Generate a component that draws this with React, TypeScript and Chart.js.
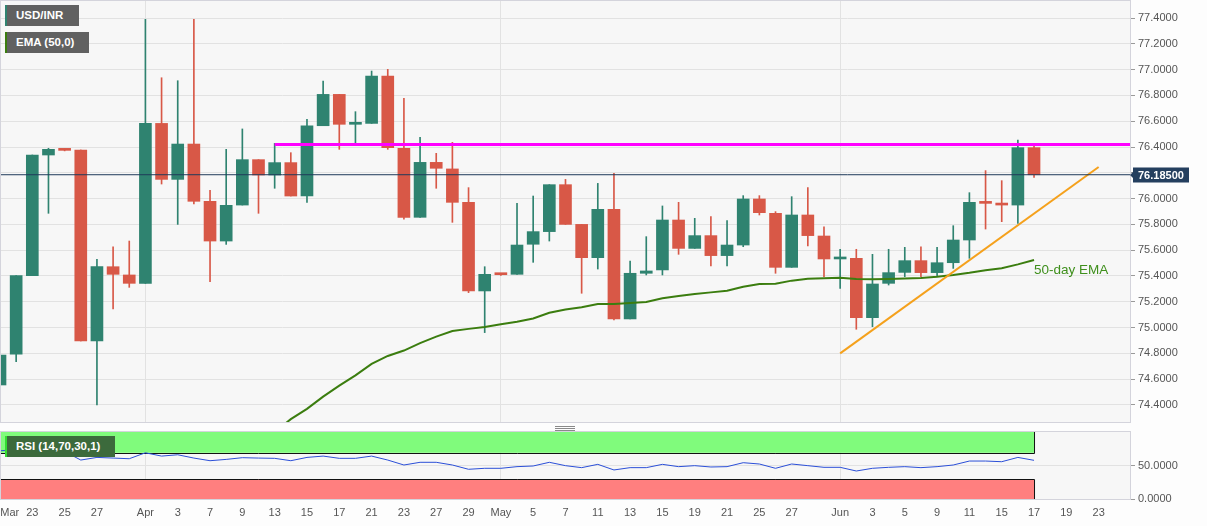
import React, { useEffect, useRef } from "react";
import { Chart, registerables } from "chart.js";

Chart.register(...registerables);

const FONT = "'Liberation Sans', Arial, sans-serif";

// Trading days: index 0 = Mar 19 ... index 64 = Jun 17
const opens = [
  74.555, 74.793, 75.403, 76.338, 76.382, 76.377, 74.896, 75.472, 75.408, 75.343,
  76.583, 76.149, 76.423, 75.979, 75.671, 75.95, 76.302, 76.183, 76.279, 76.02,
  76.565, 76.808, 76.576, 76.583, 76.95, 76.39, 75.855, 76.281, 76.23, 75.971,
  75.284, 75.413, 75.413, 75.646, 75.744, 76.108, 75.8, 75.542, 75.917, 75.067,
  75.421, 75.447, 75.834, 75.614, 75.713, 75.558, 75.64, 75.997, 75.886, 75.467,
  75.873, 75.71, 75.532, 75.537, 75.077, 75.343, 75.428, 75.519, 75.426, 75.503,
  75.679, 75.971, 75.963, 75.95, 76.395,
];
const highs = [
  75.29, 75.403, 76.338, 76.39, 76.385, 76.377, 75.529, 75.627, 75.671, 77.39,
  76.937, 76.914, 77.39, 76.064, 76.382, 76.54, 76.302, 76.428, 76.356, 76.614,
  76.912, 76.808, 76.674, 76.989, 77.002, 76.777, 76.475, 76.351, 76.436, 76.085,
  75.472, 75.415, 75.963, 76.02, 76.108, 76.149, 75.8, 76.118, 76.196, 75.516,
  75.705, 75.943, 75.971, 75.847, 75.86, 75.829, 76.023, 76.023, 75.899, 76.015,
  76.085, 75.782, 75.607, 75.607, 75.568, 75.607, 75.622, 75.627, 75.622, 75.79,
  76.046, 76.217, 76.139, 76.454, 76.408,
];
const lows = [
  74.54, 74.736, 75.403, 75.886, 76.37, 74.896, 74.4, 75.144, 75.312, 75.343,
  76.113, 75.8, 75.958, 75.356, 75.645, 75.95, 75.886, 76.08, 76.02, 75.971,
  76.565, 76.382, 76.428, 76.583, 76.382, 75.84, 75.855, 76.08, 75.816, 75.271,
  74.961, 75.405, 75.413, 75.506, 75.671, 75.8, 75.266, 75.454, 75.059, 75.067,
  75.408, 75.408, 75.568, 75.614, 75.478, 75.478, 75.627, 75.873, 75.421, 75.467,
  75.633, 75.395, 75.304, 74.987, 75.007, 75.33, 75.395, 75.395, 75.403, 75.459,
  75.537, 75.764, 75.821, 75.808, 76.165,
];
const closes = [
  74.787, 75.403, 76.338, 76.382, 76.374, 74.896, 75.472, 75.413, 75.343, 76.583,
  76.149, 76.423, 75.979, 75.671, 75.948, 76.302, 76.183, 76.279, 76.02, 76.565,
  76.808, 76.576, 76.58, 76.95, 76.395, 75.855, 76.281, 76.235, 75.971, 75.284,
  75.413, 75.41, 75.64, 75.744, 76.108, 75.8, 75.542, 75.917, 75.067, 75.421,
  75.439, 75.834, 75.614, 75.713, 75.558, 75.64, 75.997, 75.891, 75.467, 75.873,
  75.713, 75.532, 75.535, 75.077, 75.338, 75.426, 75.519, 75.426, 75.503, 75.679,
  75.971, 75.963, 75.95, 76.395, 76.185,
];

// 50-day EMA, starting at index 17 (Apr 13)
const emaStartIndex = 17;
const ema50 = [
  74.19, 74.29, 74.37, 74.465, 74.55, 74.63, 74.718, 74.78, 74.822, 74.88,
  74.93, 74.974, 74.99, 75.005, 75.025, 75.045, 75.07, 75.115, 75.14, 75.157,
  75.183, 75.183, 75.19, 75.198, 75.227, 75.245, 75.26, 75.273, 75.286, 75.317,
  75.338, 75.34, 75.364, 75.378, 75.383, 75.387, 75.377, 75.374, 75.376, 75.38,
  75.385, 75.395, 75.408, 75.425, 75.445, 75.46, 75.49, 75.524,
];

// RSI (14)
const rsi14 = [
  73, 75, 74, 73, 72, 59, 63, 62, 61, 70,
  65, 67, 62, 58, 60, 62.6, 62, 61.6, 58, 63,
  65, 61.6, 61.6, 65, 59, 51.5, 55.6, 55.6, 51.5, 45,
  46.5, 46.5, 49, 50, 55.6, 50.5, 47.5, 52.5, 44, 47.5,
  47.5, 52.5, 49, 50.5, 48.5, 49, 55, 53, 46.5, 53,
  50.5, 48, 48, 42.4, 46.5, 48, 49, 47.5, 49, 51.5,
  57.5, 57.5, 56.5, 63, 58.6,
];

const resistanceLevel = 76.42;
const resistanceStartIndex = 17;
const trendIndex = [52, 68];
const trendValue = [74.8, 76.245];

const monthStartIndex = [9, 31, 52];
const xTickIndex = [0.6, 2, 4, 6, 9, 11, 13, 15, 17, 19, 21, 23, 25, 27, 29, 31, 33, 35, 37, 39, 41, 43, 45, 47, 49, 52, 54, 56, 58, 60, 62, 64, 66, 68];
const xTickLabels = ["Mar", "23", "25", "27", "Apr", "3", "7", "9", "13", "15", "17", "21", "23", "27", "29", "May", "5", "7", "11", "13", "15", "19", "21", "25", "27", "Jun", "3", "5", "9", "11", "15", "17", "19", "23"];
const yMainTicks = [74.4, 74.6, 74.8, 75.0, 75.2, 75.4, 75.6, 75.8, 76.0, 76.2, 76.4, 76.6, 76.8, 77.0, 77.2, 77.4];
const rsiTicks = [0, 50];
const rsiUpper = 70;
const rsiLower = 30;

const X_MIN = 0;
const X_MAX = 69.94;
const Y_MIN = 74.268;
const Y_MAX = 77.532;
const RSI_MIN = 0;
const RSI_MAX = 101.5;

const GREEN = "#2f8370";
const RED = "#d85847";
const AXIS_W = 77;

const xScaleCfg = () => ({
  type: "linear" as const,
  min: X_MIN,
  max: X_MAX,
  offset: false,
  afterBuildTicks: (s: any) => {
    s.ticks = monthStartIndex.map((v) => ({ value: v }));
  },
  ticks: { display: false },
  grid: { color: "#e2e2e2", drawTicks: false, offset: false },
  border: { display: false },
});

const bgPlugin = {
  id: "bgPlugin",
  beforeDraw(chart: any) {
    const { ctx, chartArea: a, width, height } = chart;
    ctx.save();
    ctx.fillStyle = "#fdfdfd";
    ctx.fillRect(0, 0, width, height);
    ctx.fillStyle = "#f7f7f7";
    ctx.fillRect(a.left, a.top, a.right - a.left, a.bottom - a.top);
    ctx.restore();
  },
  afterDraw(chart: any) {
    const { ctx, chartArea: a } = chart;
    ctx.save();
    ctx.strokeStyle = "#d4d4dc";
    ctx.lineWidth = 1;
    ctx.strokeRect(a.left + 0.5, a.top - 0.5, a.right - a.left, a.bottom - a.top + 1);
    ctx.restore();
  },
};

export default function App() {
  const mainRef = useRef<HTMLCanvasElement>(null);
  const rsiRef = useRef<HTMLCanvasElement>(null);

  useEffect(() => {
    Chart.defaults.font.family = FONT;
    const colors = closes.map((c, i) => (c >= opens[i] ? GREEN : RED));
    const lastClose = closes[closes.length - 1];
    const lastIndex = closes.length - 1;

    const priceLabelPlugin = {
      id: "priceLabel",
      afterDatasetsDraw(chart: any) {
        const { ctx, scales } = chart;
        const lastEma = ema50[ema50.length - 1];
        ctx.save();
        ctx.font = `13.5px ${FONT}`;
        ctx.fillStyle = "#3f8f1c";
        ctx.textAlign = "left";
        ctx.textBaseline = "middle";
        ctx.fillText("50-day EMA", scales.x.getPixelForValue(emaStartIndex + ema50.length - 1), scales.y.getPixelForValue(lastEma) + 10);
        ctx.restore();
      },
      afterDraw(chart: any) {
        const { ctx, chartArea: a, scales } = chart;
        const y = Math.round(scales.y.getPixelForValue(lastClose));
        const x0 = a.right + 3;
        ctx.save();
        ctx.fillStyle = "#243f5f";
        ctx.beginPath();
        ctx.moveTo(a.right, y);
        ctx.lineTo(x0 + 1, y - 4);
        ctx.lineTo(x0 + 1, y + 4);
        ctx.closePath();
        ctx.fill();
        ctx.fillRect(x0, y - 7.5, 56, 15);
        ctx.fillStyle = "#ffffff";
        ctx.font = `bold 11px ${FONT}`;
        ctx.textAlign = "left";
        ctx.textBaseline = "middle";
        ctx.fillText(lastClose.toFixed(5), x0 + 5, y + 0.5);
        ctx.restore();
      },
    };

    const main = new Chart(mainRef.current!, {
      type: "bar",
      data: {
        datasets: [
          {
            type: "line",
            data: [
              { x: X_MIN, y: lastClose },
              { x: X_MAX, y: lastClose },
            ],
            borderColor: "#1f3a5a",
            borderWidth: 1,
            pointRadius: 0,
            order: 0,
          } as any,
          {
            type: "line",
            data: [
              { x: resistanceStartIndex, y: resistanceLevel },
              { x: X_MAX, y: resistanceLevel },
            ],
            borderColor: "#ff00ff",
            borderWidth: 3,
            pointRadius: 0,
            order: 0,
          } as any,
          {
            type: "line",
            data: trendIndex.map((x, k) => ({ x, y: trendValue[k] })),
            borderColor: "#f5a11c",
            borderWidth: 2,
            pointRadius: 0,
            order: 0,
          } as any,
          {
            type: "line",
            data: ema50.map((v, k) => ({ x: emaStartIndex + k, y: v })),
            borderColor: "#3b7d0f",
            borderWidth: 2,
            pointRadius: 0,
            tension: 0,
            order: 1,
          } as any,
          {
            type: "bar",
            data: lows.map((l, i) => ({ x: i, y: [l, highs[i]] })),
            backgroundColor: colors,
            barThickness: 1,
            grouped: false,
            borderWidth: 0,
            order: 3,
          } as any,
          {
            type: "bar",
            data: opens.map((o, i) => ({ x: i, y: [o, closes[i]] })),
            backgroundColor: colors,
            barThickness: 12,
            grouped: false,
            borderWidth: 0,
            minBarLength: 2,
            order: 2,
          } as any,
        ],
      },
      options: {
        responsive: false,
        animation: false,
        devicePixelRatio: 1,
        events: [],
        layout: { padding: { top: 1, bottom: 2, left: 0, right: 0 } },
        plugins: { legend: { display: false }, tooltip: { enabled: false } },
        scales: {
          x: xScaleCfg() as any,
          y: {
            type: "linear",
            position: "right",
            min: Y_MIN,
            max: Y_MAX,
            afterBuildTicks: (s: any) => {
              s.ticks = yMainTicks.map((v) => ({ value: v }));
            },
            afterFit: (s: any) => {
              s.width = AXIS_W;
              s.paddingTop = 0;
              s.paddingBottom = 0;
            },
            ticks: {
              color: "#555",
              font: { size: 11, family: FONT },
              padding: 3,
              callback: (v: any) => Number(v).toFixed(4),
            },
            grid: { color: "#e2e2e2", tickColor: "#9a9a9a", tickLength: 5 },
            border: { display: true, color: "#c8c8c8" },
          },
        },
      } as any,
      plugins: [bgPlugin, priceLabelPlugin],
    });

    const zonesPlugin = {
      id: "rsiZones",
      beforeDatasetsDraw(chart: any) {
        const { ctx, chartArea: a, scales } = chart;
        const xr = scales.x.getPixelForValue(lastIndex);
        const yUp = scales.y.getPixelForValue(rsiUpper);
        const yLo = scales.y.getPixelForValue(rsiLower);
        ctx.save();
        ctx.fillStyle = "#80fb7c";
        ctx.fillRect(a.left, a.top, xr - a.left, yUp - a.top);
        ctx.fillStyle = "#ff7f7f";
        ctx.fillRect(a.left, yLo, xr - a.left, a.bottom - yLo);
        ctx.strokeStyle = "#111";
        ctx.lineWidth = 1;
        ctx.beginPath();
        ctx.moveTo(a.left, Math.round(yUp) + 0.5);
        ctx.lineTo(xr + 0.5, Math.round(yUp) + 0.5);
        ctx.lineTo(xr + 0.5, a.top);
        ctx.moveTo(a.left, Math.round(yLo) + 0.5);
        ctx.lineTo(xr + 0.5, Math.round(yLo) + 0.5);
        ctx.lineTo(xr + 0.5, a.bottom);
        ctx.stroke();
        ctx.restore();
      },
      afterDraw(chart: any) {
        const { ctx, chartArea: a, scales } = chart;
        ctx.save();
        ctx.font = `11px ${FONT}`;
        ctx.fillStyle = "#555";
        ctx.textAlign = "center";
        ctx.textBaseline = "middle";
        xTickIndex.forEach((v, k) => {
          ctx.fillText(xTickLabels[k], scales.x.getPixelForValue(v), a.bottom + 14);
        });
        ctx.restore();
      },
    };

    const rsiChart = new Chart(rsiRef.current!, {
      type: "line",
      data: {
        datasets: [
          {
            data: rsi14.map((v, i) => ({ x: i, y: v })),
            borderColor: "#2b4fd8",
            borderWidth: 1,
            pointRadius: 0,
            tension: 0,
          },
        ],
      },
      options: {
        responsive: false,
        animation: false,
        devicePixelRatio: 1,
        events: [],
        layout: { padding: { top: 8, bottom: 27, left: 0, right: 0 } },
        plugins: { legend: { display: false }, tooltip: { enabled: false } },
        scales: {
          x: xScaleCfg() as any,
          y: {
            type: "linear",
            position: "right",
            min: RSI_MIN,
            max: RSI_MAX,
            afterBuildTicks: (s: any) => {
              s.ticks = rsiTicks.map((v) => ({ value: v }));
            },
            afterFit: (s: any) => {
              s.width = AXIS_W;
              s.paddingTop = 0;
              s.paddingBottom = 0;
            },
            ticks: {
              color: "#555",
              font: { size: 11, family: FONT },
              padding: 3,
              callback: (v: any) => Number(v).toFixed(4),
            },
            grid: { color: "#e2e2e2", tickColor: "#9a9a9a", tickLength: 5 },
            border: { display: true, color: "#c8c8c8" },
          },
        },
      } as any,
      plugins: [bgPlugin, zonesPlugin],
    });

    return () => {
      main.destroy();
      rsiChart.destroy();
    };
  }, []);

  const tag = (left: number, top: number, width: number, bg: string, edge: string, text: string) => (
    <div
      style={{
        position: "absolute",
        left,
        top,
        width,
        height: 21,
        boxSizing: "border-box",
        background: bg,
        borderLeft: `2px solid ${edge}`,
        color: "#ffffff",
        font: `bold 11.5px ${FONT}`,
        lineHeight: "21px",
        paddingLeft: 9,
        whiteSpace: "nowrap",
      }}
    >
      {text}
    </div>
  );

  return (
    <div
      style={{
        position: "fixed",
        left: 0,
        top: 0,
        width: 1207,
        height: 526,
        background: "#fdfdfd",
        overflow: "hidden",
      }}
    >
      <canvas ref={mainRef} width={1207} height={424} style={{ position: "absolute", left: 0, top: 0 }} />
      <canvas ref={rsiRef} width={1207} height={102} style={{ position: "absolute", left: 0, top: 424 }} />
      {tag(5, 5, 74, "#616161", GREEN, "USD/INR")}
      {tag(5, 32, 84, "#616161", "#3b7d0f", "EMA (50,0)")}
      {tag(5, 436, 110, "#3c6a3c", "#33dd33", "RSI (14,70,30,1)")}
      {[426, 428, 430].map((t) => (
        <div key={t} style={{ position: "absolute", left: 555, top: t, width: 20, height: 1, background: "#8a8a8a" }} />
      ))}
    </div>
  );
}
